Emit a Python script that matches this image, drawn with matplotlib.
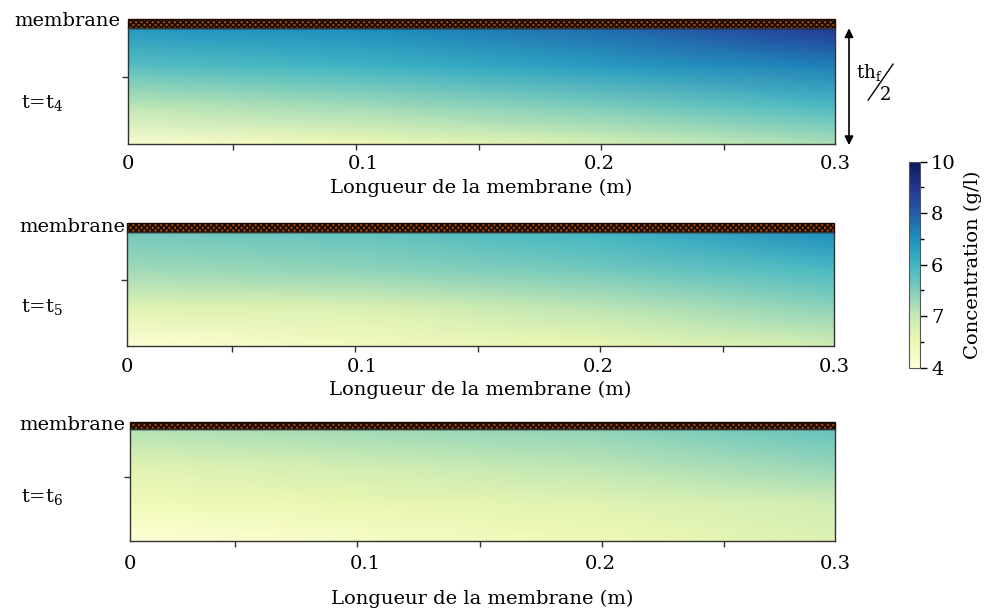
import matplotlib as mpl
import matplotlib.pyplot as plt
import numpy as np
from matplotlib.patches import Rectangle

mpl.rcParams['font.family'] = 'DejaVu Serif'
mpl.rcParams['mathtext.fontset'] = 'dejavuserif'
mpl.rcParams['font.size'] = 14
mpl.rcParams['hatch.linewidth'] = 1.3

# position le long de la membrane (m) et hauteur relative dans le canal (0 = axe, 1 = membrane)
x_pos = [0.0, 0.1, 0.2, 0.3]
y_rel = [0.0, 0.33, 0.67, 1.0]

# concentrations (g/l), une ligne par hauteur, du bas vers la membrane
conc_t4 = [[4.2, 4.7, 5.2, 5.8],
           [5.6, 5.9, 6.3, 6.9],
           [6.7, 7.0, 7.5, 8.0],
           [7.6, 7.8, 8.3, 9.2]]
conc_t5 = [[4.1, 4.5, 4.8, 5.3],
           [5.0, 5.1, 5.6, 6.1],
           [5.9, 6.1, 6.4, 6.9],
           [6.4, 6.6, 7.0, 7.8]]
conc_t6 = [[4.05, 4.35, 4.7, 5.1],
           [4.6, 4.8, 5.0, 5.3],
           [5.0, 5.3, 5.6, 6.0],
           [5.7, 5.9, 6.1, 6.6]]

time_labels = ['t=t$_4$', 't=t$_5$', 't=t$_6$']
x_tick_labels = ['0', '0.1', '0.2', '0.3']
cbar_tick_labels = ['4', '7', '6', '8', '10']

W, H = 994, 615
fig = plt.figure(figsize=(W / 100, H / 100), dpi=100)

# geometrie des panneaux en pixels : gauche, droite, haut, bas, hauteur membrane
panels = [(128, 835, 28.3, 144, 9.0),
          (127, 834, 231.7, 345.7, 9.0),
          (130, 835, 429, 541, 7.5)]
label_pads = [8, 9, 10]
xlabel_pads = [4, 3, 12]
time_y = [103, 307, 497]
memb_label = [(120, 21), (125, 227), (125, 425)]
fields = [conc_t4, conc_t5, conc_t6]

X, Y = np.meshgrid(x_pos, y_rel)
axes = []
for i, (l, r, t, b, mh) in enumerate(panels):
    ax = fig.add_axes([l / W, 1 - b / H, (r - l) / W, (b - t) / H])
    mesh = ax.pcolormesh(X, Y, np.array(fields[i]), cmap='YlGnBu',
                         vmin=4, vmax=10, shading='gouraud')
    ax.set_xlim(0, 0.3)
    ax.set_ylim(0, 1)
    ax.set_xticks([0, 0.1, 0.2, 0.3])
    ax.set_xticklabels(x_tick_labels)
    ax.set_xticks(np.linspace(0.0446, 0.2529, 5), minor=True)
    ax.tick_params(axis='x', which='major', length=0, pad=label_pads[i])
    ax.tick_params(axis='x', which='minor', length=4, width=1, color='#333333')
    ax.set_yticks([0.575])
    ax.set_yticklabels([])
    ax.tick_params(axis='y', length=4, width=1, color='#333333')
    for s in ax.spines.values():
        s.set_color('#333333')
        s.set_linewidth(1.0)
    ax.set_xlabel('Longueur de la membrane (m)', labelpad=xlabel_pads[i])

    # bande de la membrane au-dessus du canal
    ax.add_patch(Rectangle((0, 1), 1, mh / (b - t), transform=ax.transAxes,
                           clip_on=False, facecolor='#b04e0a', edgecolor='#1a0a00',
                           hatch='xxxxxx', lw=1))
    fig.text(42 / W, 1 - time_y[i] / H, time_labels[i], ha='center', va='center')
    mx, my = memb_label[i]
    fig.text(mx / W, 1 - my / H, 'membrane', ha='right', va='center')
    axes.append(ax)

# fleche d'epaisseur th_f/2
ax1 = axes[0]
ax1.annotate('', xy=(1.0198, 1.0), xytext=(1.0198, -0.01),
             xycoords='axes fraction', annotation_clip=False,
             arrowprops=dict(arrowstyle='<|-|>', color='black', lw=1.2,
                             mutation_scale=13, shrinkA=0, shrinkB=0))
ax1.text(1.029, 0.62, 'th$_\\mathrm{f}$', transform=ax1.transAxes,
         ha='left', va='center', fontsize=13)
ax1.plot([1.047, 1.082], [0.38, 0.69], transform=ax1.transAxes,
         color='black', lw=1, clip_on=False)
ax1.text(1.071, 0.42, '2', transform=ax1.transAxes,
         ha='center', va='center', fontsize=13)

# barre de couleur
cax = fig.add_axes([909 / W, 1 - 367.7 / H, 11 / W, 206 / H])
cb = fig.colorbar(mesh, cax=cax)
cb.set_ticks(np.linspace(4, 10, 5))
cb.set_ticklabels(cbar_tick_labels)
cb.ax.set_yticks(np.linspace(4.75, 9.25, 4), minor=True)
cb.ax.tick_params(which='major', length=5, width=1, pad=3)
cb.ax.tick_params(which='minor', length=3, width=1)
cb.outline.set_edgecolor('#555555')
cb.outline.set_linewidth(0.8)
cb.set_label('Concentration (g/l)', labelpad=6)

fig.savefig('out.png', dpi=100)
